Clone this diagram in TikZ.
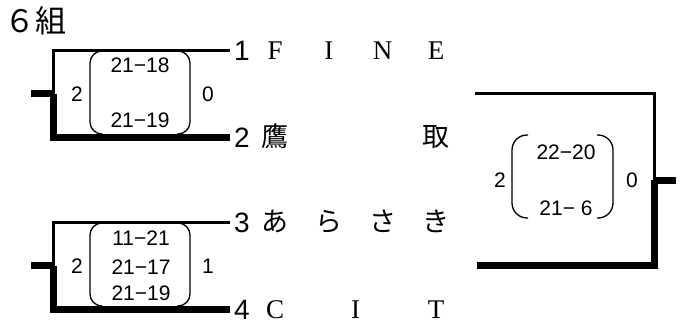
\documentclass[tikz,border=0pt]{standalone}
\usepackage{fontspec}
\setmainfont{Liberation Serif}
\setsansfont{Liberation Sans}
\newfontfamily\gothic{Noto Sans CJK JP}
\usetikzlibrary{positioning}
\newcommand{\cell}[1]{\makebox[26pt]{#1}}
\newcommand{\team}[1]{\makebox[187pt][s]{#1}}

\tikzset{
  thinline/.style={line width=3pt},
  thickline/.style={line width=7pt, line join=miter},
  paren/.style={line width=1.3pt, rounded corners=12pt},
  score/.style={font=\sffamily\fontsize{21}{21}\selectfont, inner sep=0pt, anchor=base},
  seed/.style={font=\sffamily\fontsize{28}{28}\selectfont, inner sep=0pt, anchor=base},
  teamname/.style={font=\fontsize{27}{27}\selectfont, inner sep=0pt, anchor=base west},
}

\begin{document}
\begin{tikzpicture}[x=1pt, y=-1pt]
  \useasboundingbox (0,0) rectangle (688,324);
  \node[anchor=west, inner sep=0pt, font=\gothic\fontsize{31}{31}\selectfont] (title) at (4,21) {６組};

  % seeds and teams
  \node[seed] (n1) at (242,60) {1};
  \node[seed] (n2) at (242,147) {2};
  \node[seed] (n3) at (242,232) {3};
  \node[seed] (n4) at (242,319) {4};
  \node[teamname] (t1) at (262,59) {\team{\cell{F}\hfill\cell{I}\hfill\cell{N}\hfill\cell{E}}};
  \node[teamname] (t2) at (262,146) {\team{\cell{\gothic 鷹}\hfill\cell{\gothic 取}}};
  \node[teamname] (t3) at (262,231) {\team{\cell{\gothic あ}\hfill\cell{\gothic ら}\hfill\cell{\gothic さ}\hfill\cell{\gothic き}}};
  \node[teamname] (t4) at (262,318) {\team{\cell{C}\hfill\cell{I}\hfill\cell{T}}};

  % first round
  \coordinate (e1) at (230,50);
  \coordinate (e2) at (230,137);
  \coordinate (e3) at (230,222);
  \coordinate (e4) at (230,309);
  \coordinate (j1) at (53,93.5);
  \coordinate (j2) at (53,265.5);
  \coordinate (s1) at (31,93.5);
  \coordinate (s2) at (31,265.5);
  \draw[thinline] (e1) -| (j1);
  \draw[thickline] (j1) |- (e2);
  \draw[thickline] (s1) -- (j1);
  \draw[thinline] (e3) -| (j2);
  \draw[thickline] (j2) |- (e4);
  \draw[thickline] (s2) -- (j2);

  \draw[paren] (102,51) -- (90,51) -- (90,134) -- (102,134);
  \draw[paren] (177,51) -- (190,51) -- (190,134) -- (177,134);
  \node[score] (g1a) at (77,101) {2};
  \node[score] (g1b) at (208,101) {0};
  \node[score] (p11) at (140,72.5) {21−18};
  \node[score] (p12) at (140,127.5) {21−19};

  \draw[paren] (102,223) -- (90,223) -- (90,306) -- (102,306);
  \draw[paren] (177,223) -- (190,223) -- (190,306) -- (177,306);
  \node[score] (g2a) at (77,273.5) {2};
  \node[score] (g2b) at (208,273.5) {1};
  \node[score] (p21) at (141,245.5) {11−21};
  \node[score] (p22) at (141,274.5) {21−17};
  \node[score] (p23) at (141,300.5) {21−19};

  % final
  \coordinate (f1) at (475,93.5);
  \coordinate (f2) at (477,265.5);
  \coordinate (fj) at (654,180);
  \coordinate (fs) at (676,180);
  \draw[thinline] (f1) -| (fj);
  \draw[thickline] (fj) |- (f2);
  \draw[thickline] (fj) -- (fs);

  \draw[paren, rounded corners=15pt] (528,135) -- (512,135) -- (512,218) -- (528,218);
  \draw[paren, rounded corners=15pt] (597,135) -- (613,135) -- (613,218) -- (597,218);
  \node[score] (g3a) at (500,187.5) {2};
  \node[score] (g3b) at (632,187.5) {0};
  \node[score] (p31) at (566,159.5) {22−20};
  \node[score] (p32) at (566,215.5) {21− 6};
\end{tikzpicture}
\end{document}
